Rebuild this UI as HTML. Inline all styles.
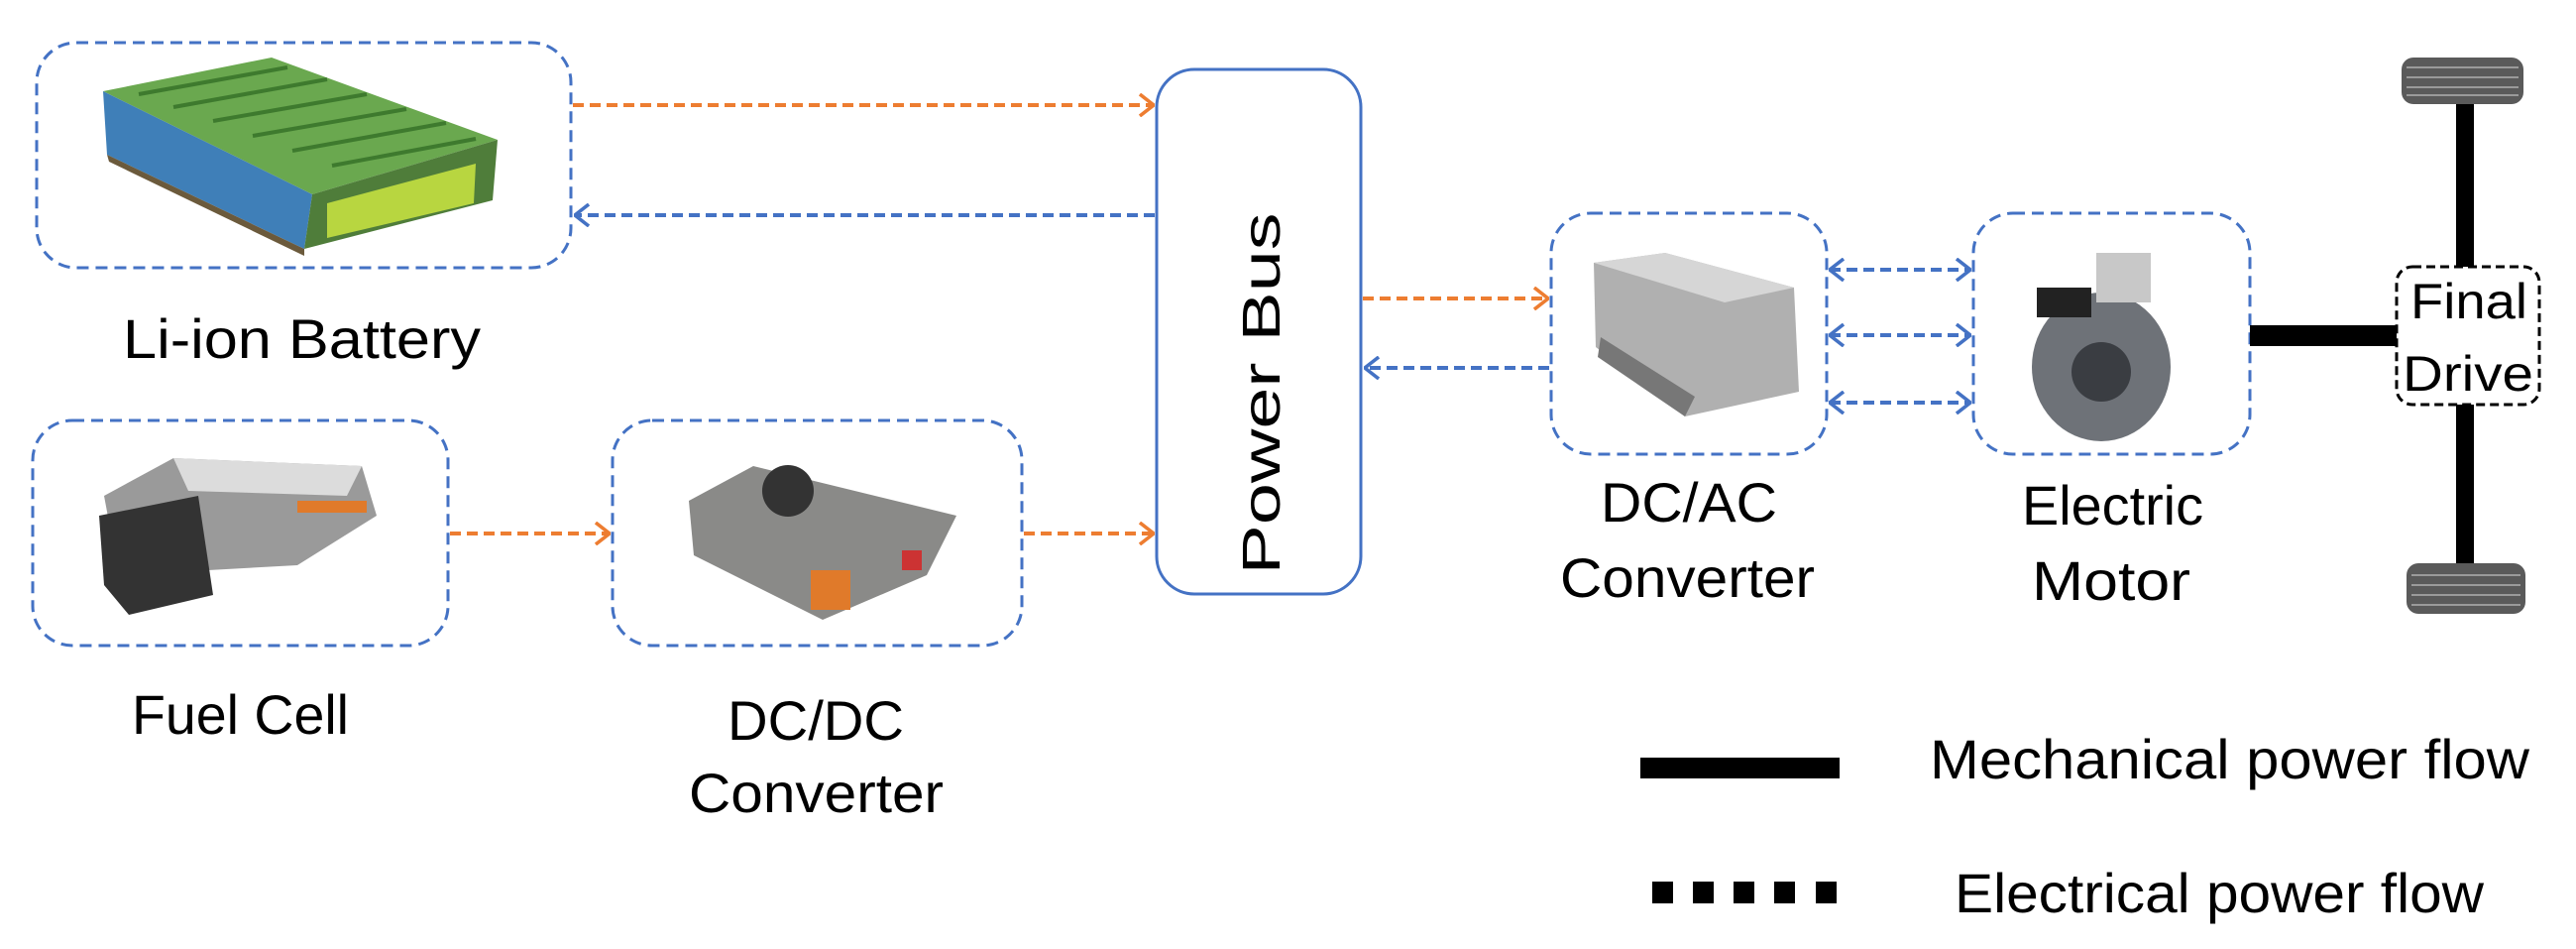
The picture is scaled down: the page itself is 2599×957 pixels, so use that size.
<!DOCTYPE html>
<html><head><meta charset="utf-8"><style>html,body{margin:0;padding:0;background:#fff}svg{display:block}</style></head>
<body>
<svg width="2599" height="957" viewBox="0 0 2599 957" xmlns="http://www.w3.org/2000/svg" font-family="Liberation Sans, sans-serif">
<defs>
<marker id="ao" markerWidth="16" markerHeight="24" refX="15" refY="12" orient="auto" markerUnits="userSpaceOnUse"><path d="M1,1 L15,12 L1,23" fill="none" stroke="#ed7d31" stroke-width="3.5"/></marker>
<marker id="ab" markerWidth="16" markerHeight="24" refX="15" refY="12" orient="auto" markerUnits="userSpaceOnUse"><path d="M1,1 L15,12 L1,23" fill="none" stroke="#4472c4" stroke-width="3.5"/></marker>
<marker id="abs" markerWidth="16" markerHeight="24" refX="1" refY="12" orient="auto" markerUnits="userSpaceOnUse"><path d="M15,1 L1,12 L15,23" fill="none" stroke="#4472c4" stroke-width="3.5"/></marker>
</defs>
<g fill="none" stroke="#4472c4" stroke-width="3" stroke-dasharray="12 7">
<rect x="37" y="43" width="539" height="227" rx="40"/>
<rect x="33" y="424" width="419" height="227" rx="40"/>
<rect x="618" y="424" width="413" height="227" rx="40"/>
<rect x="1565" y="215" width="278" height="243" rx="40"/>
<rect x="1991" y="215" width="279" height="243" rx="40"/>
</g>
<rect x="1167" y="70" width="206" height="529" rx="38" fill="none" stroke="#4472c4" stroke-width="3"/>
<g stroke-width="4" stroke-dasharray="11 6" fill="none">
<line x1="578" y1="106" x2="1164" y2="106" stroke="#ed7d31" marker-end="url(#ao)"/>
<line x1="1165" y1="217" x2="580" y2="217" stroke="#4472c4" marker-end="url(#ab)"/>
<line x1="454" y1="538" x2="615" y2="538" stroke="#ed7d31" marker-end="url(#ao)"/>
<line x1="1033" y1="538" x2="1164" y2="538" stroke="#ed7d31" marker-end="url(#ao)"/>
<line x1="1375" y1="301" x2="1562" y2="301" stroke="#ed7d31" marker-end="url(#ao)"/>
<line x1="1563" y1="371" x2="1377" y2="371" stroke="#4472c4" marker-end="url(#ab)"/>
<line x1="1846" y1="272" x2="1988" y2="272" stroke="#4472c4" marker-start="url(#abs)" marker-end="url(#ab)"/>
<line x1="1846" y1="338" x2="1988" y2="338" stroke="#4472c4" marker-start="url(#abs)" marker-end="url(#ab)"/>
<line x1="1846" y1="406" x2="1988" y2="406" stroke="#4472c4" marker-start="url(#abs)" marker-end="url(#ab)"/>
</g>
<rect x="2270" y="328" width="150" height="21" fill="#000"/>
<rect x="2478" y="100" width="18" height="170" fill="#000"/>
<rect x="2478" y="408" width="18" height="165" fill="#000"/>
<rect x="2418" y="269" width="144" height="139" rx="16" fill="#fff" stroke="#000" stroke-width="3" stroke-dasharray="9 5"/>
<rect x="2423" y="58" width="123" height="47" rx="12" fill="#5a5a5a"/>
<rect x="2428" y="568" width="120" height="51" rx="12" fill="#5a5a5a"/>
<g stroke="#9a9a9a" stroke-width="2"><line x1="2428" y1="68" x2="2541" y2="68"/><line x1="2428" y1="78" x2="2541" y2="78"/><line x1="2428" y1="88" x2="2541" y2="88"/><line x1="2428" y1="96" x2="2541" y2="96"/>
<line x1="2433" y1="580" x2="2543" y2="580"/><line x1="2433" y1="590" x2="2543" y2="590"/><line x1="2433" y1="600" x2="2543" y2="600"/><line x1="2433" y1="610" x2="2543" y2="610"/></g>
<!-- battery -->
<polygon points="104,92 274,58 502,141 315,196" fill="#6aa84f"/>
<g stroke="#3e7a2e" stroke-width="4">
<line x1="140" y1="95" x2="290" y2="68"/><line x1="175" y1="108" x2="330" y2="80"/><line x1="215" y1="122" x2="370" y2="95"/><line x1="255" y1="137" x2="410" y2="110"/><line x1="295" y1="152" x2="450" y2="124"/><line x1="335" y1="167" x2="480" y2="140"/>
</g>
<polygon points="104,92 315,196 307,251 108,156" fill="#3f7fb8"/>
<polygon points="315,196 502,141 497,202 307,251" fill="#4f7d3a"/>
<polygon points="330,205 480,165 478,205 330,240" fill="#b8d640"/>
<polygon points="108,156 307,251 307,258 110,163" fill="#6b5a3c"/>
<!-- fuel cell -->
<polygon points="105,500 175,462 365,470 380,520 300,570 120,580" fill="#9a9a9a"/>
<polygon points="175,462 365,470 350,500 190,495" fill="#dcdcdc"/>
<polygon points="100,520 200,500 215,600 130,620 105,590" fill="#333"/>
<rect x="300" y="505" width="70" height="12" fill="#e07a2a"/>
<!-- dc/dc -->
<polygon points="695,505 760,470 965,520 935,580 830,625 700,560" fill="#8a8a88"/>
<circle cx="795" cy="495" r="26" fill="#333"/>
<rect x="818" y="575" width="40" height="40" fill="#e07a2a"/>
<rect x="910" y="555" width="20" height="20" fill="#c33"/>
<!-- dc/ac -->
<polygon points="1608,265 1680,255 1810,290 1815,395 1700,420 1610,350" fill="#b0b0b0"/>
<polygon points="1608,265 1680,255 1810,290 1740,305" fill="#d6d6d6"/>
<polygon points="1612,360 1700,420 1710,400 1615,340" fill="#777"/>
<!-- motor -->
<ellipse cx="2120" cy="370" rx="70" ry="75" fill="#6e7278"/>
<ellipse cx="2120" cy="375" rx="30" ry="30" fill="#3a3d42"/>
<rect x="2115" y="255" width="55" height="50" fill="#c8c8c8"/>
<rect x="2055" y="290" width="55" height="30" fill="#222"/>
<g font-size="56" fill="#000">
<text x="124" y="361" textLength="361" lengthAdjust="spacingAndGlyphs">Li-ion Battery</text>
<text x="133" y="740" textLength="219" lengthAdjust="spacingAndGlyphs">Fuel Cell</text>
<text x="734" y="746" textLength="178" lengthAdjust="spacingAndGlyphs">DC/DC</text>
<text x="695" y="819" textLength="257" lengthAdjust="spacingAndGlyphs">Converter</text>
<text x="1615" y="526" textLength="178" lengthAdjust="spacingAndGlyphs">DC/AC</text>
<text x="1574" y="602" textLength="257" lengthAdjust="spacingAndGlyphs">Converter</text>
<text x="2040" y="529" textLength="183" lengthAdjust="spacingAndGlyphs">Electric</text>
<text x="2050" y="605" textLength="160" lengthAdjust="spacingAndGlyphs">Motor</text>
<text x="1947" y="785" textLength="605" lengthAdjust="spacingAndGlyphs">Mechanical power flow</text>
<text x="1972" y="920" textLength="534" lengthAdjust="spacingAndGlyphs">Electrical power flow</text>
<text x="2432" y="321" font-size="50" textLength="118" lengthAdjust="spacingAndGlyphs">Final</text>
<text x="2424" y="394" font-size="50" textLength="132" lengthAdjust="spacingAndGlyphs">Drive</text>
<text transform="translate(1291,397) rotate(-90)" text-anchor="middle" font-size="54" textLength="365" lengthAdjust="spacingAndGlyphs">Power Bus</text>
</g>
<rect x="1655" y="764" width="201" height="21" fill="#000"/>
<g fill="#000">
<rect x="1667" y="889" width="21" height="22"/><rect x="1708" y="889" width="21" height="22"/><rect x="1749" y="889" width="21" height="22"/><rect x="1790" y="889" width="21" height="22"/><rect x="1832" y="889" width="21" height="22"/>
</g>
</svg>
</body></html>
